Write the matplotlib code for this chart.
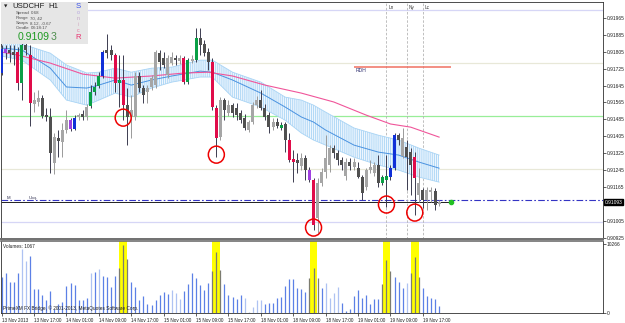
import matplotlib
matplotlib.use("Agg")
import matplotlib.pyplot as plt
from matplotlib.patches import Ellipse

W, H = 625, 323

# USDCHF H1, bar 0 = 13 Nov 09:00
opens = [0.91704, 0.91817, 0.91813, 0.91803, 0.91803, 0.91656, 0.91836, 0.91789, 0.91557, 0.91567,
         0.91586, 0.91505, 0.91496, 0.91278, 0.91396, 0.91377, 0.91434, 0.91481, 0.91439, 0.91496,
         0.91510, 0.91496, 0.91548, 0.91614, 0.91642, 0.91690, 0.91813, 0.91813, 0.91789, 0.91656,
         0.91671, 0.91552, 0.91496, 0.91496, 0.91690, 0.91633, 0.91614, 0.91638, 0.91647, 0.91798,
         0.91775, 0.91694, 0.91751, 0.91775, 0.91761, 0.91775, 0.91661, 0.91761, 0.91765, 0.91869,
         0.91841, 0.91803, 0.91756, 0.91538, 0.91401, 0.91576, 0.91514, 0.91552, 0.91538, 0.91514,
         0.91491, 0.91434, 0.91472, 0.91552, 0.91576, 0.91538, 0.91505, 0.91448, 0.91472, 0.91444,
         0.91463, 0.91387, 0.91297, 0.91292, 0.91264, 0.91302, 0.91245, 0.91198, 0.91018, 0.91184,
         0.91235, 0.91269, 0.91349, 0.91325, 0.91292, 0.91217, 0.91283, 0.91259, 0.91254, 0.91212,
         0.91165, 0.91245, 0.91231, 0.91269, 0.91184, 0.91198, 0.91212, 0.91254, 0.91410, 0.91311,
         0.91354, 0.91330, 0.91306, 0.91127, 0.91150, 0.91103, 0.91141, 0.91146, 0.91084]
highs = [0.91836, 0.91836, 0.91836, 0.91836, 0.91827, 0.91846, 0.91850, 0.91836, 0.91614, 0.91623,
         0.91600, 0.91538, 0.91538, 0.91420, 0.91434, 0.91467, 0.91529, 0.91491, 0.91505, 0.91514,
         0.91529, 0.91557, 0.91647, 0.91661, 0.91708, 0.91813, 0.91888, 0.91836, 0.91798, 0.91789,
         0.91789, 0.91633, 0.91600, 0.91708, 0.91708, 0.91647, 0.91647, 0.91694, 0.91813, 0.91813,
         0.91803, 0.91789, 0.91803, 0.91789, 0.91789, 0.91784, 0.91775, 0.91789, 0.91917, 0.91917,
         0.91860, 0.91822, 0.91775, 0.91552, 0.91590, 0.91586, 0.91576, 0.91562, 0.91562, 0.91529,
         0.91510, 0.91481, 0.91567, 0.91595, 0.91623, 0.91557, 0.91519, 0.91491, 0.91491, 0.91472,
         0.91472, 0.91420, 0.91340, 0.91325, 0.91325, 0.91316, 0.91259, 0.91207, 0.91207, 0.91254,
         0.91410, 0.91363, 0.91363, 0.91340, 0.91306, 0.91302, 0.91302, 0.91302, 0.91283, 0.91221,
         0.91254, 0.91292, 0.91283, 0.91316, 0.91221, 0.91316, 0.91269, 0.91420, 0.91420, 0.91444,
         0.91387, 0.91349, 0.91330, 0.91254, 0.91160, 0.91165, 0.91165, 0.91160, 0.91103]
lows = [0.91694, 0.91770, 0.91756, 0.91742, 0.91623, 0.91576, 0.91789, 0.91453, 0.91519, 0.91548,
        0.91491, 0.91477, 0.91231, 0.91226, 0.91306, 0.91306, 0.91420, 0.91429, 0.91434, 0.91481,
        0.91481, 0.91481, 0.91538, 0.91600, 0.91633, 0.91680, 0.91775, 0.91765, 0.91614, 0.91543,
        0.91481, 0.91363, 0.91396, 0.91481, 0.91614, 0.91562, 0.91562, 0.91623, 0.91633, 0.91718,
        0.91727, 0.91680, 0.91742, 0.91742, 0.91746, 0.91652, 0.91652, 0.91751, 0.91756, 0.91789,
        0.91784, 0.91718, 0.91529, 0.91306, 0.91387, 0.91481, 0.91500, 0.91496, 0.91481, 0.91467,
        0.91434, 0.91425, 0.91463, 0.91538, 0.91529, 0.91481, 0.91420, 0.91434, 0.91444, 0.91434,
        0.91330, 0.91283, 0.91188, 0.91231, 0.91245, 0.91198, 0.91188, 0.90961, 0.90947, 0.91169,
        0.91207, 0.91235, 0.91302, 0.91269, 0.91245, 0.91198, 0.91245, 0.91245, 0.91207, 0.91103,
        0.91150, 0.91231, 0.91217, 0.91165, 0.91174, 0.91070, 0.91198, 0.91245, 0.91363, 0.91302,
        0.91150, 0.91127, 0.91032, 0.91094, 0.91065, 0.91056, 0.91094, 0.91056, 0.91075]
closes = [0.91817, 0.91798, 0.91798, 0.91789, 0.91656, 0.91836, 0.91813, 0.91562, 0.91576, 0.91586,
          0.91500, 0.91496, 0.91325, 0.91401, 0.91382, 0.91434, 0.91481, 0.91439, 0.91491, 0.91505,
          0.91496, 0.91543, 0.91614, 0.91638, 0.91690, 0.91803, 0.91798, 0.91789, 0.91656, 0.91671,
          0.91552, 0.91496, 0.91529, 0.91690, 0.91633, 0.91600, 0.91633, 0.91680, 0.91803, 0.91756,
          0.91742, 0.91775, 0.91779, 0.91765, 0.91775, 0.91661, 0.91765, 0.91770, 0.91869, 0.91836,
          0.91798, 0.91756, 0.91543, 0.91396, 0.91576, 0.91529, 0.91552, 0.91514, 0.91505, 0.91481,
          0.91444, 0.91472, 0.91552, 0.91576, 0.91538, 0.91496, 0.91448, 0.91472, 0.91453, 0.91458,
          0.91387, 0.91292, 0.91283, 0.91278, 0.91302, 0.91245, 0.91198, 0.90985, 0.91184, 0.91235,
          0.91302, 0.91349, 0.91325, 0.91292, 0.91269, 0.91283, 0.91264, 0.91283, 0.91212, 0.91136,
          0.91245, 0.91259, 0.91269, 0.91184, 0.91212, 0.91217, 0.91254, 0.91410, 0.91387, 0.91396,
          0.91306, 0.91269, 0.91207, 0.91184, 0.91103, 0.91150, 0.91150, 0.91079, 0.91093]
# price/volume class per bar: c = climax, r = rising, n = normal
pva = ("rrnncc" "ncnn" "nnnnnnnrrn" "nncccrnncc" "cnnnnnnnnn" "nnnnnccncn"
       "nnccnnnnnn" "nnnnnnnnnc" "nccnnnrcnn" "nnnnnnnnnn" "nnnnccrrnn" "nncnnnnnn")

volumes = [5400, 5900, 4570, 4570, 5950, 9540, 7750, 8540, 3530, 3530, 2680,
           1940, 3280, 600, 1340, 1690, 4020, 4520, 4170, 1940, 1940,
           2280, 5920, 6110, 6560, 5510, 5410, 3830, 5510, 6660, 10130,
           8000, 4570, 3830, 1940, 2530, 1300, 1190, 1940, 2680, 3170,
           2830, 3430, 3020, 2090, 3280, 4320, 6000, 5260, 4170, 3430,
           4420, 6260, 9040, 6410, 4320, 2680, 2430, 2040, 2680, 2190,
           200, 850, 1940, 1940, 1340, 1440, 1540, 2190, 2430, 4070,
           5020, 5020, 3680, 3530, 3080, 5170, 6660, 5170, 3770, 4420,
           2190, 3020, 3830, 1540, 300, 600, 2580, 3430, 2190, 2680,
           1340, 2090, 2090, 4320, 7890, 6260, 5410, 4570, 3680, 4420,
           6000, 8390, 5410, 3680, 2530, 2190, 2090, 1067]
vol_light = [5, 6, 22, 24, 42, 43, 44, 60, 61, 62, 63, 64, 80, 81, 82, 83, 100]
climax_bars = [30, 53, 77, 95, 102]

# dragon band (EMA34 high / low / close) and slow EMA, read at these bars
band_bars = [0, 5, 12, 16, 21, 24, 28, 32, 37, 42, 49, 52, 57, 64, 70, 74, 77, 80, 87, 93, 98, 103, 108]
band_top = [0.91850, 0.91841, 0.91798, 0.91742, 0.91704, 0.91708, 0.91727, 0.91708, 0.91727, 0.91732,
            0.91765, 0.91765, 0.91708, 0.91661, 0.91590, 0.91576, 0.91552, 0.91519, 0.91444, 0.91410,
            0.91387, 0.91349, 0.91316]
band_bot = [0.91784, 0.91765, 0.91671, 0.91576, 0.91552, 0.91576, 0.91609, 0.91590, 0.91633, 0.91661,
            0.91685, 0.91685, 0.91590, 0.91543, 0.91481, 0.91420, 0.91387, 0.91363, 0.91306, 0.91269,
            0.91245, 0.91212, 0.91188]
band_mid = [0.91822, 0.91813, 0.91727, 0.91638, 0.91633, 0.91647, 0.91671, 0.91647, 0.91671, 0.91690,
            0.91713, 0.91708, 0.91671, 0.91609, 0.91543, 0.91496, 0.91472, 0.91434, 0.91363, 0.91330,
            0.91316, 0.91283, 0.91254]
slow_bars = [0, 4, 12, 20, 28, 37, 45, 51, 57, 65, 74, 82, 90, 96, 101, 108]
slow_ema = [0.91803, 0.91789, 0.91751, 0.91699, 0.91680, 0.91690, 0.91704, 0.91708, 0.91690, 0.91647,
            0.91609, 0.91567, 0.91505, 0.91463, 0.91448, 0.91401]

levels = [0.9200, 0.9175, 0.9150, 0.9125, 0.9100]
level_colors = ["#d6d6f6", "#e8e8d8", "#98ee98", "#e8e8d8", "#d6d6f6"]
dashdot_level = 0.91105
bid = 0.91093
rdh_level = 0.91732
rdh_span = (87, 111)
session_bars = [95, 100, 104]
session_names = ["Ln", "Ny", "Lc"]

tick_bars = list(range(0, 105, 8))
tick_labels = ["13 Nov 2013", "13 Nov 17:00", "14 Nov 01:00", "14 Nov 09:00", "14 Nov 17:00",
               "15 Nov 01:00", "15 Nov 09:00", "15 Nov 17:00", "18 Nov 01:00", "18 Nov 09:00",
               "18 Nov 17:00", "19 Nov 01:00", "19 Nov 09:00", "19 Nov 17:00"]
price_ticks = [0.91965, 0.91885, 0.91805, 0.91725, 0.91645, 0.91565, 0.91485, 0.91405,
               0.91325, 0.91245, 0.91165, 0.91005, 0.90925]

plt.rcParams['font.family'] = ['Liberation Sans', 'DejaVu Sans']
plt.rcParams['hatch.linewidth'] = 0.6

fig = plt.figure(figsize=(W / 100, H / 100), dpi=100)
ax = fig.add_axes([1 / W, 1 - 239 / H, 602 / W, 237 / H])
axv = fig.add_axes([1 / W, 1 - 313 / H, 602 / W, 72 / H])

xlim = (-0.17, 148.47)
ax.set_xlim(*xlim)
ax.set_ylim(0.90919, 0.92040)
axv.set_xlim(*xlim)
axv.set_ylim(0, 10728)

# horizontal levels
for lv, c in zip(levels, level_colors):
    ax.axhline(lv, color=c, lw=0.9, zorder=1)
ax.axhline(dashdot_level, color="#3434c4", lw=0.8, ls=(0, (6, 2, 1.5, 2)), zorder=1)
ax.hlines(bid, xlim[0], rdh_span[1], color="#202020", lw=0.7, zorder=1)
ax.hlines(rdh_level, rdh_span[0], rdh_span[1], color="#f07060", lw=1.1, zorder=2)
ax.text(rdh_span[0] + 0.4, rdh_level - 0.00005, "RDH", fontsize=3.6, color="#303070", va="top")

for b, name in zip(session_bars, session_names):
    ax.axvline(b, color="#b4b4b4", lw=0.6, ls=(0, (3, 2)), zorder=1)
    ax.text(b + 0.5, 0.92015, name, fontsize=3.4, color="#404040", va="center")

# dragon band
ax.fill_between(band_bars, band_top, band_bot, facecolor="#eef6fe", edgecolor="#a8d4f5",
                hatch="||||||||", lw=0, zorder=2)
ax.plot(band_bars, band_top, color="#a8d4f5", lw=0.6, zorder=2)
ax.plot(band_bars, band_bot, color="#a8d4f5", lw=0.6, zorder=2)
ax.plot(band_bars, band_mid, color="#4a92e0", lw=0.7, zorder=3)
ax.plot(slow_bars, slow_ema, color="#f0559a", lw=0.8, zorder=3)

# PVA candles
colors = {("c", True): "#0aa046", ("c", False): "#e00c4a", ("r", True): "#1030d8",
          ("r", False): "#a040e0", ("n", True): "#a6a6a6", ("n", False): "#505050"}
for i in range(len(opens)):
    o, h, l, c = opens[i], highs[i], lows[i], closes[i]
    bull = c >= o
    col = colors[(pva[i], bull)]
    wick = "#9a9a9a" if (pva[i] == "n" and bull) else "#3c3c50"
    ax.vlines(i, l, h, color=wick, lw=0.7, zorder=4)
    lo, hi = min(o, c), max(o, c)
    if hi - lo < 0.00005:
        hi = lo + 0.00005
    ax.bar(i, hi - lo, bottom=lo, width=0.74, color=col, lw=0, zorder=5)

for b in climax_bars:
    ax.add_patch(Ellipse((b, lows[b] + 0.00012), 16 / 4.05, 17 * 0.0000473,
                         fill=False, ec="#ee0000", lw=1.1, zorder=6))

ax.plot([rdh_span[1]], [bid], "o", color="#22c022", ms=3, zorder=6)

# price axis
ax.yaxis.tick_right()
ax.set_yticks(price_ticks)
ax.set_yticklabels(["%.5f" % p for p in price_ticks])
ax.tick_params(axis="y", length=2, width=0.5, pad=0.8, labelsize=3.5, colors="#202020")
ax.set_xticks([])
ax.annotate("%.5f" % bid, xy=(1.0, bid), xycoords=("axes fraction", "data"),
            xytext=(1.4, 0), textcoords="offset points", fontsize=3.5, color="white",
            va="center", ha="left", annotation_clip=False,
            bbox=dict(boxstyle="square,pad=0.12", fc="black", ec="black"))

for sp in ax.spines.values():
    sp.set_color("#303030")
    sp.set_linewidth(0.6)
ax.spines["bottom"].set_color("#707070")
ax.spines["bottom"].set_linewidth(1.4)

ax.text(1.2, bid + 0.00014, "M", fontsize=3.2, color="#303050")
ax.text(6.6, bid + 0.00014, "Ukq.", fontsize=3.2, color="#303050")

# volume panel
for b in climax_bars:
    axv.axvspan(b - 0.95, b + 0.95, color="#ffff00", lw=0, zorder=1)
near_climax = set()
for b in climax_bars:
    near_climax.update([b - 1, b, b + 1])
for i, v in enumerate(volumes):
    if i in near_climax:
        vc = "#7c7c70"
    elif i in vol_light:
        vc = "#aec2f2"
    else:
        vc = "#5c80e6"
    axv.vlines(i, 0, v, color=vc, lw=0.9, zorder=2)

axv.yaxis.tick_right()
axv.set_yticks([0, 10266])
axv.set_yticklabels(["0", "10266"])
axv.tick_params(axis="y", length=2, width=0.5, pad=0.8, labelsize=3.5, colors="#202020")
axv.set_xticks(tick_bars)
axv.set_xticklabels(tick_labels)
for lab in axv.get_xticklabels():
    lab.set_ha("left")
axv.tick_params(axis="x", length=2.5, width=0.5, pad=1, labelsize=3.3, colors="#202020")
for sp in axv.spines.values():
    sp.set_color("#303030")
    sp.set_linewidth(0.6)
axv.spines["top"].set_color("#707070")
axv.spines["top"].set_linewidth(1.2)
axv.text(0.004, 0.955, "Volumes: %d" % volumes[-1], transform=axv.transAxes, fontsize=3.4,
         color="#202020", va="top")
axv.text(0.004, 0.03, "PrimeXM FX Bridge, \u00a9 2001-2013, MetaQuotes Software Corp.",
         transform=axv.transAxes, fontsize=3.4, color="#202020", va="bottom")

# info panel (top left)
info = fig.add_axes([1 / W, 1 - 44 / H, 87 / W, 42 / H])
info.set_facecolor("#e6e6e6")
info.set_xticks([])
info.set_yticks([])
for sp in info.spines.values():
    sp.set_visible(False)
info.set_xlim(0, 87)
info.set_ylim(44, 2)


def itext(x, y, s, **kw):
    return info.text(x, y, s, va="center", **kw)


itext(3, 6.3, "\u25bc", fontsize=3.2, color="#202020", family="DejaVu Sans")
itext(11, 6.5, "USDCHF", fontsize=5.6, color="#202020")
itext(47, 6.5, "H1", fontsize=5.6, color="#202020")
rows = [("Spread", "0.68"), ("Range", "70, 42"), ("Swaps", "8.12, -0.67"), ("Candle", "08:18:17")]
for k, (a, b) in enumerate(rows):
    itext(14.5, 13.3 + 5 * k, a, fontsize=3.2, color="#505050")
    itext(29.5, 13.3 + 5 * k, b, fontsize=3.2, color="#505050")
t1 = itext(17, 36.5, "0.9109", fontsize=7.6, color="#1e9a22")
info.annotate("3", xy=(1, 0.5), xycoords=t1, xytext=(0.2, 0), textcoords="offset points",
              va="center", ha="left", fontsize=7.6, color="#4e8e4e")
sonic = [("S", 6, "#3a52e8", 5.6), ("o", 12.7, "#b4a4e0", 3.8), ("n", 18.3, "#c0a2c6", 3.8),
         ("i", 24, "#d0a8c0", 3.8), ("c", 30, "#e27aa0", 3.8), ("R", 37.7, "#e8306e", 5.6)]
for ch, yy, cc, fs in sonic:
    itext(77.5, yy, ch, fontsize=fs, color=cc, ha="center")

fig.savefig("out.png", dpi=100)
